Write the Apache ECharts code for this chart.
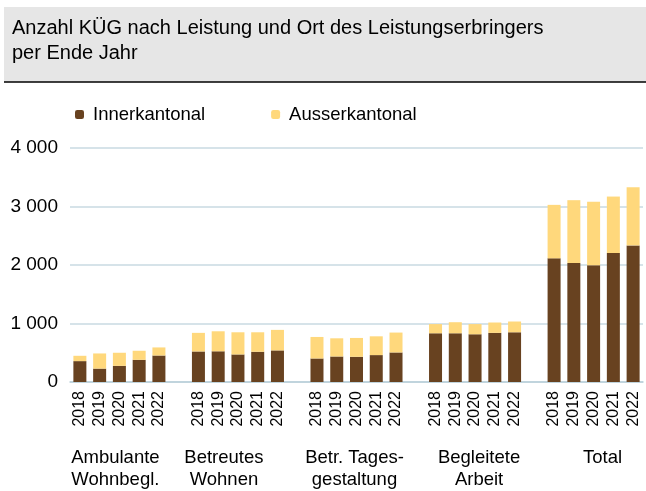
<!DOCTYPE html>
<html><head><meta charset="utf-8">
<script src="https://cdn.jsdelivr.net/npm/echarts@6/dist/echarts.min.js"></script>
<style>html,body{margin:0;padding:0;background:#fff}#c{width:646px;height:491px}</style>
</head><body><div id="c"></div>
<script>
const years = ['2018','2019','2020','2021','2022'];
const groups = ['Ambulante\nWohnbegl.','Betreutes\nWohnen','Betr. Tages-\ngestaltung','Begleitete\nArbeit','Total'];
const groupShift = [-4,-14,-2,4,9];
const inner = [
  [357,229,276,379,453],
  [522,525,471,517,540],
  [402,436,431,460,505],
  [833,833,816,840,850],
  [2114,2034,1994,2205,2335]
];
const outer = [
  [91,259,224,155,138],
  [318,342,379,333,351],
  [368,311,322,321,340],
  [157,189,174,177,184],
  [914,1074,1086,965,994]
];
const yTicks = [0,1000,2000,3000,4000];

const cats = [], groupCats = [], dInner = [], dOuter = [];
groups.forEach((g,gi)=>{
  years.forEach((y,yi)=>{
    cats.push(y);
    if (yi===2) {
      const s = groupShift[gi];
      groupCats.push({value:g, textStyle:{padding: s<0 ? [0,-2*s,0,0] : [0,0,0,2*s]}});
    } else groupCats.push('');
    dInner.push(inner[gi][yi]);
    dOuter.push(outer[gi][yi]);
  });
  if (gi < groups.length-1) { cats.push(''); groupCats.push(''); dInner.push('-'); dOuter.push('-'); }
});

const chart = echarts.init(document.getElementById('c'), null, {renderer:'canvas'});
const font = 'Liberation Sans, Arial, sans-serif';
chart.setOption({
  animation:false,
  textStyle:{fontFamily:font},
  graphic:[
    {type:'rect', shape:{x:4,y:7,width:642,height:75}, style:{fill:'#e6e6e6'}, z:-1},
    {type:'line', shape:{x1:4,y1:82,x2:646,y2:82}, style:{stroke:'#000',lineWidth:1.5}},
    {type:'text', left:12, top:16, style:{text:'Anzahl KÜG nach Leistung und Ort des Leistungserbringers\nper Ende Jahr', font:'20px '+font, fill:'#000', lineHeight:25}}
  ],
  legend:{left:70, top:100, itemWidth:9, itemHeight:9, itemGap:66,
    textStyle:{fontSize:18.5, color:'#000', fontFamily:font, padding:[0,0,0,4]},
    data:['Innerkantonal','Ausserkantonal']},
  grid:{left:70, right:3, top:148, bottom:108},
  xAxis:[
    {type:'category', data:cats, axisTick:{show:false},
     axisLine:{lineStyle:{color:'#b9cfd9', width:1.5}},
     axisLabel:{rotate:90, fontSize:16, color:'#000', margin:9, interval:0, fontFamily:font}},
    {type:'category', data:groupCats, position:'bottom', axisTick:{show:false}, axisLine:{show:false},
     axisLabel:{fontSize:18.5, color:'#000', margin:65, interval:0, lineHeight:22, fontFamily:font}}
  ],
  yAxis:{type:'value', min:yTicks[0], max:yTicks[yTicks.length-1], interval:1000,
    axisLabel:{fontSize:19, color:'#000', margin:12, fontFamily:font,
      formatter:v=>String(v).replace(/\B(?=(\d{3})+(?!\d))/g,' ')},
    splitLine:{lineStyle:{color:'#c9dae2', width:1.5}}},
  series:[
    {name:'Innerkantonal', type:'bar', stack:'a', data:dInner, barWidth:13,
     itemStyle:{color:'#684220'}},
    {name:'Ausserkantonal', type:'bar', stack:'a', data:dOuter, barWidth:13,
     itemStyle:{color:'#ffd87c'}}
  ]
});
</script></body></html>
